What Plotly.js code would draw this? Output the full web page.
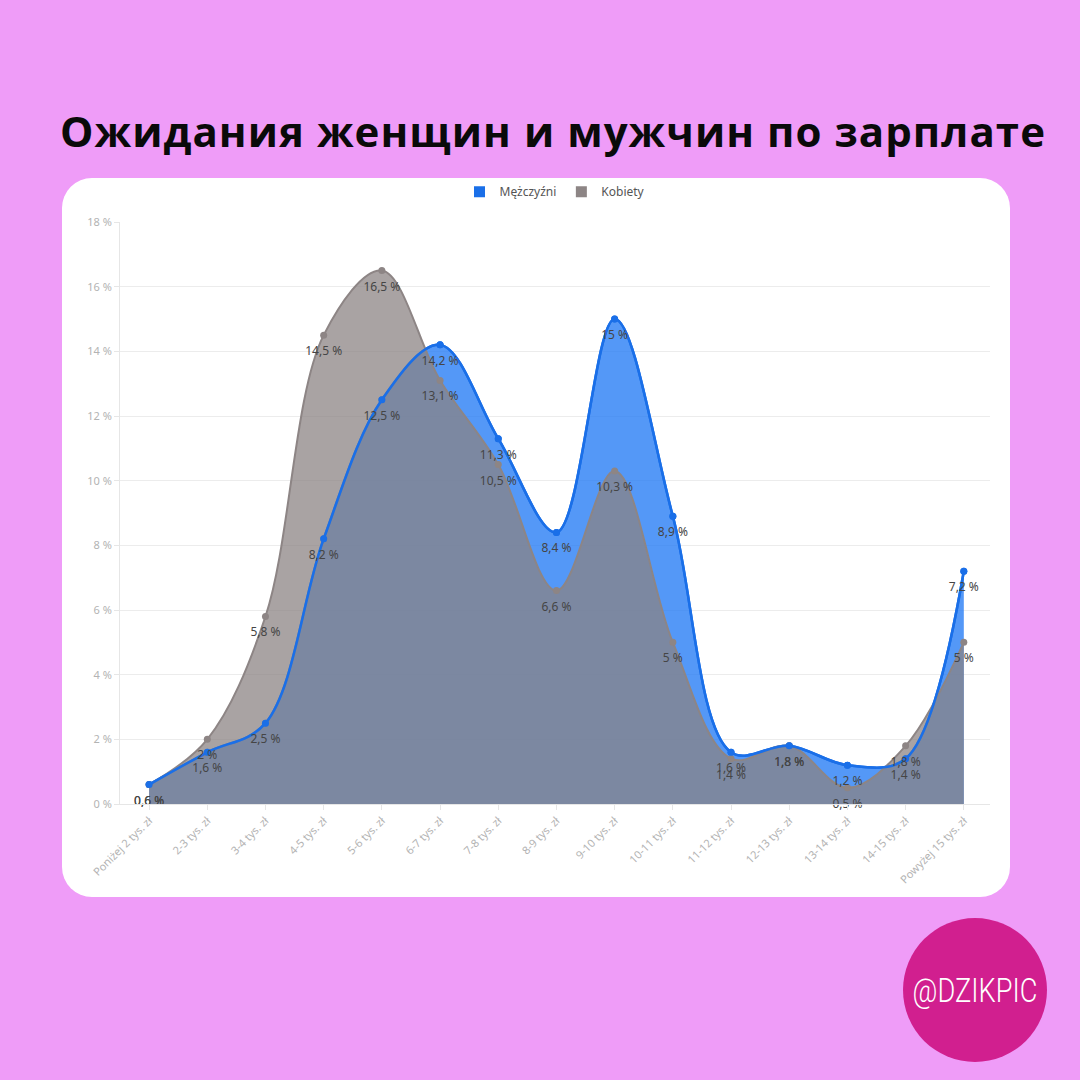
<!DOCTYPE html>
<html><head><meta charset="utf-8">
<script src="https://cdn.plot.ly/plotly-3.0.1.min.js"></script>
<style>
html,body{margin:0;padding:0;}
body{width:1080px;height:1080px;background:#ef9cf8;position:relative;overflow:hidden;font-family:"Open Sans","Noto Sans",sans-serif;}
#title{position:absolute;left:0;width:1106px;top:102px;text-align:center;font-family:"Open Sans","Noto Sans",sans-serif;font-weight:700;font-size:42px;color:#0a0a0a;letter-spacing:1.05px;white-space:nowrap;}
#card{position:absolute;left:62px;top:178px;width:948px;height:719px;background:#fff;border-radius:30px;overflow:hidden;}
#chart{position:absolute;left:0;top:0;width:948px;height:719px;}
#badge{position:absolute;left:903px;top:918px;width:144px;height:144px;border-radius:50%;background:#d11f8f;color:#fff;display:flex;align-items:center;justify-content:center;font-family:"Roboto",sans-serif;font-weight:300;font-size:34px;}
#badge span{display:inline-block;transform:scaleX(0.8);white-space:nowrap;}
</style></head>
<body>
<div id="title">Ожидания женщин и мужчин по зарплате</div>
<div id="card"><div id="chart"></div></div>
<div id="badge"><span>@DZIKPIC</span></div>
<script>
const categories = ["Poniżej 2 tys. zł","2-3 tys. zł","3-4 tys. zł","4-5 tys. zł","5-6 tys. zł","6-7 tys. zł","7-8 tys. zł","8-9 tys. zł","9-10 tys. zł","10-11 tys. zł","11-12 tys. zł","12-13 tys. zł","13-14 tys. zł","14-15 tys. zł","Powyżej 15 tys. zł"];
const men   = [0.6, 1.6, 2.5, 8.2, 12.5, 14.2, 11.3, 8.4, 15, 8.9, 1.6, 1.8, 1.2, 1.4, 7.2];
const women = [0.6, 2, 5.8, 14.5, 16.5, 13.1, 10.5, 6.6, 10.3, 5, 1.4, 1.8, 0.5, 1.8, 5];
const seriesNames = ["Mężczyźni", "Kobiety"];
const yTicks = [0, 2, 4, 6, 8, 10, 12, 14, 16, 18];

const fmt = v => String(v).replace('.', ',') + ' %';
const idx = categories.map((c, i) => i);
const blue = '#1a6fe8', gray = '#8d8585';
const labelFont = {family: 'Noto Sans, sans-serif', size: 12, color: '#454545'};

const traces = [
  {x: idx, y: men, name: seriesNames[0], type: 'scatter', mode: 'lines+markers', showlegend: false,
   line: {shape: 'spline', smoothing: 1, color: blue, width: 2.5},
   marker: {color: blue, size: 7}, fill: 'tozeroy', fillcolor: 'rgba(30,120,245,0.76)', hoverinfo: 'skip'},
  {x: idx, y: women, name: seriesNames[1], type: 'scatter', mode: 'lines+markers', showlegend: false,
   line: {shape: 'spline', smoothing: 1, color: gray, width: 2},
   marker: {color: gray, size: 7}, fill: 'tozeroy', fillcolor: 'rgba(139,131,131,0.74)', hoverinfo: 'skip'},
  {x: idx, y: men, name: seriesNames[0], type: 'scatter', mode: 'lines+markers', showlegend: false,
   line: {shape: 'spline', smoothing: 1, color: blue, width: 2.5},
   marker: {color: blue, size: 7}, hoverinfo: 'skip'},
  {x: idx, y: women, type: 'scatter', mode: 'markers+text', showlegend: false, cliponaxis: false,
   marker: {size: 16, opacity: 0},
   text: women.map(fmt), textposition: 'bottom center', textfont: labelFont, hoverinfo: 'skip'},
  {x: idx, y: men, type: 'scatter', mode: 'markers+text', showlegend: false, cliponaxis: false,
   marker: {size: 16, opacity: 0},
   text: men.map(fmt), textposition: 'bottom center', textfont: labelFont, hoverinfo: 'skip'},
  {x: [null], y: [null], name: seriesNames[0], type: 'scatter', mode: 'markers',
   marker: {symbol: 'square', size: 11, color: blue}},
  {x: [null], y: [null], name: seriesNames[1], type: 'scatter', mode: 'markers',
   marker: {symbol: 'square', size: 11, color: gray}}
];

const layout = {
  width: 948, height: 719,
  margin: {l: 58, r: 20, t: 44, b: 93, autoexpand: false},
  paper_bgcolor: 'rgba(0,0,0,0)', plot_bgcolor: 'rgba(0,0,0,0)',
  font: {family: 'Noto Sans, sans-serif', color: '#555'},
  showlegend: true,
  legend: {orientation: 'h', x: 0.5, xanchor: 'center', y: 1.052, yanchor: 'middle',
           font: {size: 12, color: '#555'}, itemwidth: 30, traceorder: 'normal'},
  xaxis: {
    range: [-0.5, 14.45], tickmode: 'array', tickvals: idx, ticktext: categories,
    tickangle: -45, tickfont: {size: 11, color: '#b3b3b3'}, automargin: false,
    showgrid: false, zeroline: false, showline: true, linecolor: '#e6e6e6',
    ticks: 'outside', ticklen: 5, tickcolor: '#e6e6e6', fixedrange: true
  },
  yaxis: {
    range: [0, 18], tickmode: 'array', tickvals: yTicks, ticktext: yTicks.map(v => v + ' %'),
    tickfont: {size: 11, color: '#b3b3b3'}, gridcolor: '#ececec', gridwidth: 1, automargin: false,
    zeroline: false, showline: true, linecolor: '#e6e6e6',
    ticks: 'outside', ticklen: 5, tickcolor: '#e6e6e6', fixedrange: true
  },
  hovermode: false
};
Plotly.newPlot('chart', traces, layout, {displayModeBar: false, staticPlot: true});
</script>
</body></html>
